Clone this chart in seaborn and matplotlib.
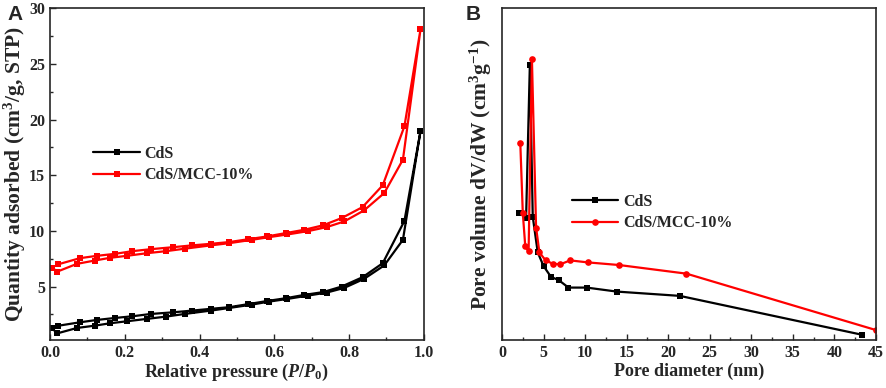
import numpy as np
import pandas as pd
import seaborn as sns
import matplotlib
matplotlib.use("Agg")
import matplotlib.pyplot as plt
from matplotlib.ticker import MultipleLocator

sns.set_style("ticks")
plt.rcParams['font.family'] = ['Liberation Serif', 'DejaVu Serif']
plt.rcParams['font.weight'] = 'bold'
plt.rcParams['mathtext.fontset'] = 'custom'
plt.rcParams['mathtext.rm'] = 'Liberation Serif:bold'
plt.rcParams['mathtext.it'] = 'Liberation Serif:italic:bold'
plt.rcParams['mathtext.bf'] = 'Liberation Serif:bold'

# --- panel A: N2 isotherms (adsorption branch, then desorption branch back down)
p_ads = [0.005, 0.02, 0.072, 0.12, 0.16, 0.205, 0.26, 0.31, 0.36, 0.43, 0.48, 0.54,
         0.586, 0.635, 0.69, 0.74, 0.787, 0.84, 0.894, 0.944, 0.991]
p_des = [0.948, 0.89, 0.836, 0.78, 0.73, 0.68, 0.63, 0.58, 0.53, 0.48, 0.43, 0.38,
         0.33, 0.27, 0.22, 0.174, 0.125, 0.08, 0.022]

cds_ads = [1.25, 0.8, 1.28, 1.49, 1.7, 1.88, 2.1, 2.3, 2.54, 2.84, 3.08, 3.38,
           3.65, 3.89, 4.19, 4.46, 4.88, 5.69, 6.9, 9.2, 18.96]
cds_des = [10.9, 7.1, 5.84, 5.0, 4.5, 4.25, 3.95, 3.7, 3.42, 3.15, 3.0, 2.84,
           2.69, 2.54, 2.33, 2.18, 2.0, 1.79, 1.48]

mcc_ads = [6.7, 6.35, 7.04, 7.34, 7.58, 7.76, 8.0, 8.18, 8.4, 8.7, 8.9, 9.2,
           9.44, 9.68, 9.98, 10.34, 10.85, 11.84, 13.4, 16.4, 28.1]
mcc_des = [19.4, 14.1, 12.14, 11.15, 10.5, 10.1, 9.8, 9.5, 9.25, 9.0, 8.84, 8.7,
           8.54, 8.36, 8.18, 7.94, 7.76, 7.55, 7.0]

# --- panel B: pore size distribution (arbitrary units, axis unlabelled)
d_cds = [2.1, 2.9, 3.35, 3.7, 4.3, 5.0, 5.9, 6.8, 8.0, 10.2, 13.8, 21.4, 43.3]
v_cds = [0.384, 0.369, 0.829, 0.372, 0.264, 0.223, 0.19, 0.181, 0.158, 0.158,
         0.146, 0.133, 0.016]
d_mcc = [2.2, 2.5, 2.8, 3.2, 3.6, 4.1, 4.5, 5.25, 6.1, 7.0, 8.2, 10.3, 14.1, 22.2, 45.0]
v_mcc = [0.595, 0.384, 0.282, 0.267, 0.847, 0.339, 0.264, 0.240, 0.230, 0.228,
         0.240, 0.234, 0.226, 0.200, 0.030]

labels = ["CdS", "CdS/MCC-10%"]
colors = ["black", "#ff0000"]
markers = ["s", "o"]

fig = plt.figure(figsize=(8.86, 3.88), dpi=100)
axA = fig.add_axes([0.0564, 0.1237, 0.422, 0.855])
axB = fig.add_axes([0.5666, 0.1237, 0.422, 0.855])

isoA = [(p_ads + p_des, cds_ads + cds_des), (p_ads + p_des, mcc_ads + mcc_des)]
for (x, y), lab, c in zip(isoA, labels, colors):
    sns.lineplot(x=x, y=y, sort=False, estimator=None, ax=axA, color=c, lw=1.6,
                 marker="s", markersize=4.8, markeredgewidth=0, label=lab)

psd = [(d_cds, v_cds), (d_mcc, v_mcc)]
for (x, y), lab, c, m in zip(psd, labels, colors, markers):
    sns.lineplot(x=x, y=y, sort=False, estimator=None, ax=axB, color=c, lw=1.6,
                 marker=m, markersize=4.8, markeredgewidth=0, label=lab)

axA.set_xlim(0, 1.0)
axA.set_ylim(0.2, 30)
axA.set_yticks([5, 10, 15, 20, 25, 30])
axA.xaxis.set_minor_locator(MultipleLocator(0.1))
axA.yaxis.set_minor_locator(MultipleLocator(2.5))
axA.set_xlabel("Relative pressure ($P$/$P_0$)", fontsize=13, fontweight='bold', labelpad=1)
axA.set_ylabel("Quantity adsorbed (cm$^3$/g, STP)", fontsize=15.5, fontweight='bold', labelpad=1)

axB.set_xlim(0, 45)
axB.set_ylim(0, 1.0)
axB.set_yticks([])
axB.xaxis.set_major_locator(MultipleLocator(5))
axB.xaxis.set_minor_locator(MultipleLocator(2.5))
axB.set_xlabel("Pore diameter (nm)", fontsize=13, fontweight='bold', labelpad=1)
axB.set_ylabel("Pore volume dV/dW (cm$^3$g$^{-1}$)", fontsize=15.5, fontweight='bold', labelpad=6)

for ax in (axA, axB):
    ax.tick_params(which='both', direction='in', top=False, right=False, labelsize=11.5)
    ax.tick_params(which='major', length=4, width=1)
    ax.tick_params(which='minor', length=2.5, width=1)
    for s in ax.spines.values():
        s.set_linewidth(1.2)
    for t in ax.get_xticklabels() + ax.get_yticklabels():
        t.set_fontweight('bold')

axA.legend(loc='upper left', bbox_to_anchor=(0.099, 0.605), frameon=False, fontsize=11.5,
           handlelength=2.9, handletextpad=0.3, labelspacing=0.35, borderaxespad=0)
axB.legend(loc='upper left', bbox_to_anchor=(0.17, 0.46), frameon=False, fontsize=11.5,
           handlelength=2.9, handletextpad=0.3, labelspacing=0.35, borderaxespad=0)

fig.text(0.009, 0.948, "A", fontsize=15, fontweight='bold', family='Liberation Sans')
fig.text(0.526, 0.948, "B", fontsize=15, fontweight='bold', family='Liberation Sans')

fig.savefig("out.png", dpi=100)
